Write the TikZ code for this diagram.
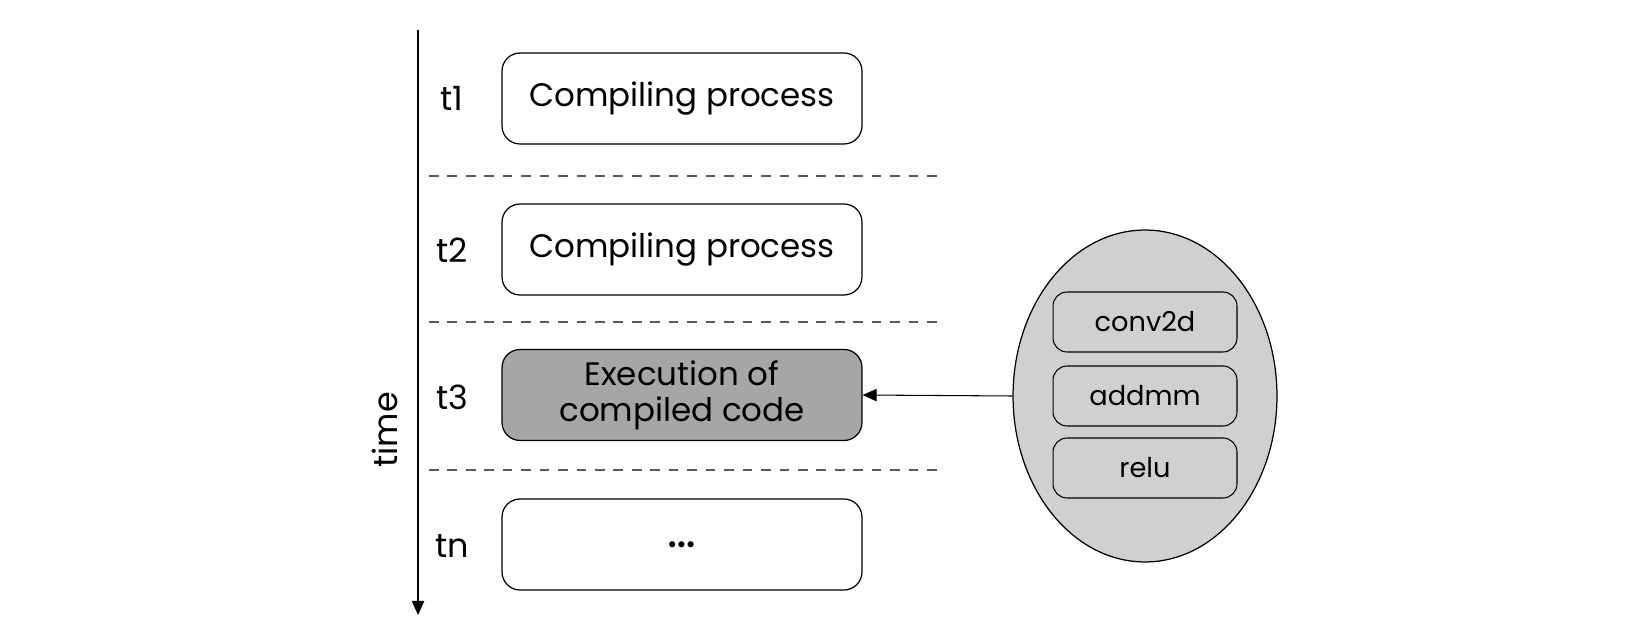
\documentclass[tikz,border=0pt]{standalone}
\usepackage{fontspec}
\setmainfont{Poppins}
\usetikzlibrary{shapes.geometric,arrows.meta}

\begin{document}
\begin{tikzpicture}[x=0.02cm, y=-0.02cm,
	stage/.style={draw, rounded corners=0.36cm, minimum width=7.2cm, minimum height=1.82cm, inner sep=0pt, line width=0.7pt, font=\fontsize{18.5}{20.5}\selectfont, align=center},
	tlabel/.style={font=\fontsize{19}{21}\selectfont},
	op/.style={draw, fill=opgray, rounded corners=0.28cm, minimum width=3.68cm, minimum height=1.2cm, inner sep=0pt, line width=0.6pt, font=\fontsize{15.5}{18}\selectfont},
	sep/.style={gray!70!black, line width=0.6pt, dash pattern=on 5.5pt off 5pt}]
	\definecolor{execgray}{HTML}{A6A6A6}
	\definecolor{opgray}{HTML}{D0D0D0}
	\useasboundingbox (0, 0) rectangle (1650, 641);

	\coordinate (tstart) at (418, 30);
	\coordinate (tend) at (418, 615);
	\draw[line width=0.7pt, -{Triangle[width=7pt,length=8pt]}] (tstart) -- (tend);
	\node[tlabel, rotate=90] (time) at (385, 430) {time};

	\node[tlabel] (t1) at (452, 98) {t1};
	\node[tlabel] (t2) at (452, 250) {t2};
	\node[tlabel] (t3) at (452, 397) {t3};
	\node[tlabel] (tn) at (452, 546) {tn};

	\node[stage] (comp1) at (682, 98.5) {Compiling process};
	\node[stage] (comp2) at (682, 249.5) {Compiling process};
	\node[stage, fill=execgray] (exec) at (682, 395) {Execution of\\compiled code};
	\node[stage, font=\fontsize{28}{28}\selectfont] (more) at (682, 544.5) {…};

	\draw[sep] (429, 176) -- (942, 176);
	\draw[sep] (429, 322) -- (942, 322);
	\draw[sep] (429, 470) -- (942, 470);

	\node[draw, ellipse, fill=opgray, line width=0.7pt, minimum width=5.28cm, minimum height=6.64cm, inner sep=0pt] (graph) at (1145, 396) {};
	\node[op] (conv) at (1145, 322) {conv2d};
	\node[op] (addmm) at (1145, 396) {addmm};
	\node[op] (relu) at (1145, 468) {relu};

	\draw[line width=0.6pt, -{Triangle[width=7pt,length=8pt]}] (graph.west) -- (exec.east);
\end{tikzpicture}
\end{document}
